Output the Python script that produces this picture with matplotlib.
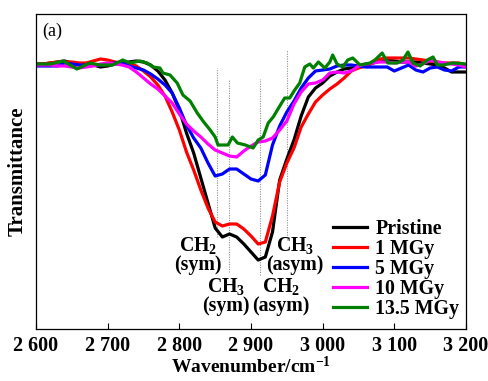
import matplotlib
matplotlib.use("Agg")
import matplotlib.pyplot as plt
from matplotlib.ticker import FixedLocator, FuncFormatter

plt.rcParams['font.family'] = ['Liberation Serif', 'DejaVu Serif']
plt.rcParams['mathtext.fontset'] = 'custom'
plt.rcParams['mathtext.bf'] = 'Liberation Serif:bold'
plt.rcParams['mathtext.rm'] = 'Liberation Serif:bold'
plt.rcParams['mathtext.default'] = 'bf'

# ---------------- data ----------------
wavenumber = list(range(2600, 3201, 10))

pristine = [265, 265, 266, 267, 268, 266, 265, 265, 264, 262,
            263, 265, 266, 267, 268, 267, 264, 258, 249, 236,
            219, 196, 176, 151, 126, 101, 92, 95, 92, 85,
            77, 69, 72, 97, 149, 170, 189, 213, 232, 241,
            246, 253, 257, 260, 261, 262, 264, 266, 268, 269,
            268, 267, 267, 267, 266, 265, 264, 261, 257, 257, 257]

mgy_1 = [265, 265, 266, 267, 267, 267, 266, 266, 268, 270,
         269, 267, 266, 266, 263, 258, 252, 244, 233, 217,
         199, 177, 159, 139, 121, 107, 103, 105, 105, 100,
         93, 85, 87, 113, 147, 166, 181, 202, 215, 227,
         234, 240, 245, 251, 258, 261, 263, 266, 270, 271,
         271, 271, 271, 270, 269, 268, 267, 266, 266, 266, 264]

mgy_5 = [263, 263, 263, 263, 266, 265, 264, 264, 264, 264,
         265, 266, 266, 263, 261, 259, 255, 250, 244, 236,
         221, 204, 191, 181, 166, 153, 155, 160, 160, 155,
         150, 148, 154, 184, 203, 217, 228, 241, 251, 258,
         259, 260, 263, 264, 264, 263, 262, 262, 262, 262,
         258, 261, 264, 259, 257, 261, 262, 259, 258, 262, 262]

mgy_10 = [264, 264, 264, 263, 263, 262, 261, 262, 263, 265,
          266, 265, 264, 262, 257, 251, 245, 240, 233, 226,
          215, 205, 198, 192, 185, 179, 176, 173, 172, 178,
          183, 187, 188, 191, 199, 208, 225, 237, 245, 246,
          249, 256, 257, 256, 258, 263, 265, 266, 267, 267,
          266, 267, 267, 263, 265, 269, 267, 266, 265, 264, 262]

wavenumber_135 = [2600, 2620, 2638, 2657, 2675, 2689, 2707, 2721, 2731, 2745,
                  2755, 2763, 2773, 2777, 2787, 2797, 2805, 2815, 2825, 2833,
                  2843, 2850, 2854, 2861, 2868, 2874, 2881, 2892, 2903, 2910,
                  2917, 2924, 2931, 2941, 2947, 2954, 2961, 2968, 2975, 2982,
                  2987, 2994, 3003, 3010, 3014, 3020, 3028, 3035, 3042, 3052,
                  3066, 3073, 3083, 3091, 3104, 3112, 3119, 3126, 3136, 3146,
                  3154, 3160, 3168, 3182, 3200]
mgy_135 = [265, 265, 268, 260, 266, 264, 264, 269, 266, 268,
           266, 262, 261, 256, 254, 246, 234, 228, 216, 208,
           199, 192, 184, 184, 184, 192, 186, 184, 181, 189,
           192, 206, 212, 224, 231, 231, 239, 246, 262, 265,
           261, 267, 261, 267, 274, 265, 262, 269, 271, 264,
           266, 269, 276, 266, 266, 269, 277, 266, 263, 269,
           272, 264, 264, 266, 265]

series_labels = ['Pristine', '1 MGy', '5 MGy', '10 MGy', '13.5 MGy']
series_colors = ['black', '#ff0000', '#0000ff', '#ff00ff', '#008000']

# band markers: position, line bottom, line top
band_pos = [2852, 2870, 2912, 2950]
band_low = [92, 57, 54, 89]
band_high = [261, 250, 250, 279]

band_text = ['CH$_2$\n(sym)', 'CH$_3$\n(sym)', 'CH$_2$\n(asym)', 'CH$_3$\n(asym)']
band_text_x = [2826, 2865, 2942, 2961]
band_text_y = [74, 33, 33, 74]

xticks = [2600, 2700, 2800, 2900, 3000, 3100, 3200]

# ---------------- plot ----------------
fig = plt.figure(figsize=(4.89, 3.81), dpi=100)
ax = fig.add_axes([36/489, 1-329/381, 430/489, 315/381])

xs = [wavenumber, wavenumber, wavenumber, wavenumber, wavenumber_135]
ys = [pristine, mgy_1, mgy_5, mgy_10, mgy_135]
for x, y, lab, col in zip(xs, ys, series_labels, series_colors):
    ax.plot(x, y, color=col, lw=2.3, label=lab, solid_joinstyle='round')

for p, lo, hi in zip(band_pos, band_low, band_high):
    ax.vlines(p, lo, hi, colors='#909090', linestyles=(0, (1, 1.2)), lw=0.8, zorder=0)

for t, tx, ty in zip(band_text, band_text_x, band_text_y):
    ax.text(tx, ty, t, ha='center', va='center', fontsize=14.3, fontweight='bold',
            linespacing=0.95)

ax.set_xlim(2600, 3200)
ax.set_ylim(0, 315)
ax.xaxis.set_major_locator(FixedLocator(xticks))
ax.xaxis.set_major_formatter(FuncFormatter(lambda v, p: f"{int(v)//1000} {int(v)%1000:03d}"))
ax.tick_params(axis='x', direction='in', length=4, width=0.8, labelsize=14.5, pad=5)
ax.set_yticks([])
for lab in ax.get_xticklabels():
    lab.set_fontweight('bold')
for s in ax.spines.values():
    s.set_linewidth(0.9)

ax.set_xlabel('Wavenumber/cm$^{-1}$', fontsize=14, fontweight='bold', labelpad=0)
ax.set_ylabel('Transmittance', fontsize=15, fontweight='bold', labelpad=6)

ax.text(0.014, 0.945, '(a)', transform=ax.transAxes, fontsize=13, ha='left', va='center')

leg = ax.legend(loc='upper left', bbox_to_anchor=(0.69, 0.35), frameon=False,
                prop={'weight': 'bold', 'size': 14.3}, handlelength=1.75,
                handletextpad=0.4, labelspacing=0.0, borderpad=0, borderaxespad=0)

fig.savefig('out.png', dpi=100)
